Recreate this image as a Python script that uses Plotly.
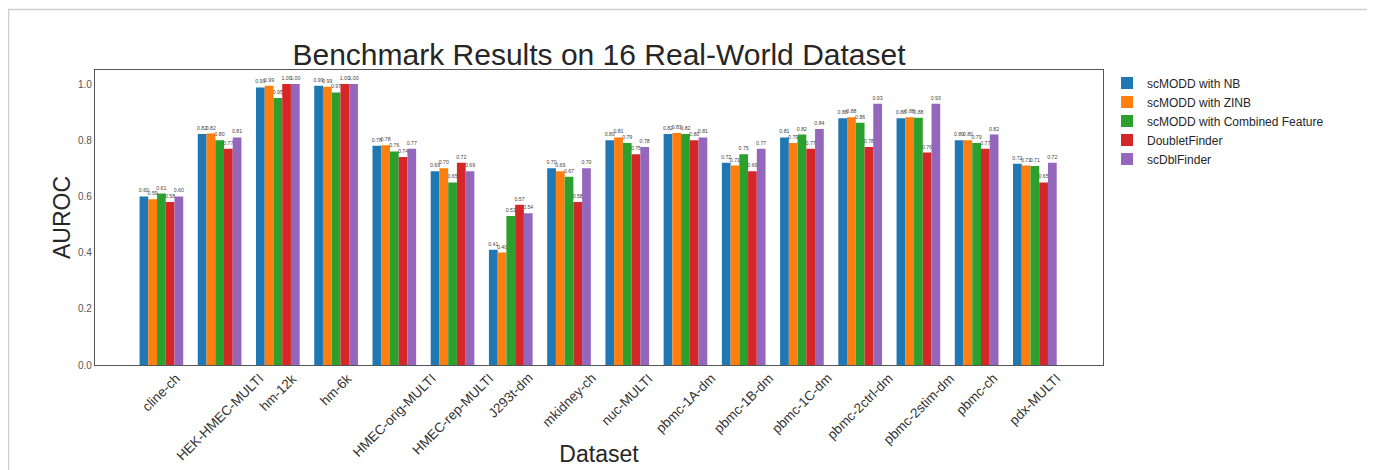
import plotly.graph_objects as go

datasets = ["cline-ch", "HEK-HMEC-MULTI", "hm-12k", "hm-6k", "HMEC-orig-MULTI",
            "HMEC-rep-MULTI", "J293t-dm", "mkidney-ch", "nuc-MULTI", "pbmc-1A-dm",
            "pbmc-1B-dm", "pbmc-1C-dm", "pbmc-2ctrl-dm", "pbmc-2stim-dm", "pbmc-ch",
            "pdx-MULTI"]

scmodd_nb = [0.60, 0.822, 0.988, 0.994, 0.78, 0.69, 0.41, 0.70, 0.80, 0.822,
             0.72, 0.81, 0.878, 0.878, 0.80, 0.716]
scmodd_zinb = [0.59, 0.824, 0.994, 0.99, 0.782, 0.70, 0.40, 0.69, 0.81, 0.826,
               0.71, 0.79, 0.882, 0.882, 0.80, 0.71]
scmodd_combined = [0.61, 0.80, 0.95, 0.97, 0.76, 0.65, 0.53, 0.67, 0.79, 0.822,
                   0.75, 0.82, 0.862, 0.88, 0.79, 0.708]
doubletfinder = [0.58, 0.77, 1.00, 1.00, 0.74, 0.72, 0.57, 0.58, 0.75, 0.80,
                 0.69, 0.77, 0.776, 0.756, 0.77, 0.65]
scdblfinder = [0.60, 0.81, 1.00, 1.00, 0.77, 0.69, 0.54, 0.70, 0.776, 0.81,
               0.77, 0.84, 0.93, 0.93, 0.82, 0.72]

series_names = ["scMODD with NB", "scMODD with ZINB", "scMODD with Combined Feature",
                "DoubletFinder", "scDblFinder"]
series_values = [scmodd_nb, scmodd_zinb, scmodd_combined, doubletfinder, scdblfinder]
colors = ["#1f77b4", "#ff7f0e", "#2ca02c", "#d62728", "#9467bd"]

y_ticks = [0.0, 0.2, 0.4, 0.6, 0.8, 1.0]

FONT = "Liberation Sans, Arial, Helvetica, sans-serif"

# the page body adds an 8px offset; figure sized to fit the window
OFF = 8
W, H = 1375 - OFF, 470 - OFF
L, R, T, B = 87, 272, 62, 105
PW = W - L - R
PH = H - T - B


def px2paper_x(page_px):
    return (page_px - OFF - L) / PW


def px2paper_y(page_py):
    return (H - B - (page_py - OFF)) / PH


fig = go.Figure()
for name, vals, col in zip(series_names, series_values, colors):
    fig.add_trace(go.Bar(
        x=datasets, y=vals, name=name,
        marker=dict(color=col, line=dict(width=0)),
        text=vals, texttemplate="%{y:.2f}", textposition="outside",
        textfont=dict(size=5.2, color="#444444", family=FONT),
        constraintext="none", cliponaxis=False,
    ))

# rotated category labels (centered under groups, like the original)
for ds in datasets:
    fig.add_annotation(
        x=ds, y=0, xref="x", yref="paper", text=ds, showarrow=False,
        textangle=-45, xanchor="center", yanchor="top", yshift=-3,
        font=dict(size=13.5, color="#333333", family=FONT),
    )

# outer light frame
fig.add_shape(type="rect", xref="paper", yref="paper",
              x0=px2paper_x(8.5), x1=px2paper_x(1369), y0=px2paper_y(490), y1=px2paper_y(9.5),
              line=dict(color="#cfcfcf", width=1.5), fillcolor="rgba(0,0,0,0)", layer="below")

fig.update_layout(
    width=W, height=H,
    margin=dict(l=L, r=R, t=T, b=B, autoexpand=False),
    paper_bgcolor="white", plot_bgcolor="white",
    barmode="group", bargap=0.25, bargroupgap=0,
    font=dict(family=FONT, color="#262626"),
    title=dict(text="Benchmark Results on 16 Real-World Dataset",
               x=0.5, xref="paper", xanchor="center",
               y=1 - (54 - OFF) / H, yref="container", yanchor="middle",
               font=dict(size=30, color="#262626", family=FONT)),
    xaxis=dict(
        type="category", range=[-1.14, 16.17], showticklabels=False, ticks="",
        showline=True, linecolor="#555555", linewidth=1.3, mirror=True,
        showgrid=False, zeroline=False,
        title=dict(text="Dataset", standoff=80, font=dict(size=23, color="#262626", family=FONT)),
    ),
    yaxis=dict(
        range=[0, 1.05], tickvals=y_ticks, tickformat=".1f", ticks="",
        tickfont=dict(size=10, color="#555555", family=FONT),
        showline=True, linecolor="#555555", linewidth=1.3, mirror=True,
        showgrid=False, zeroline=False,
        title=dict(text="AUROC", standoff=0, font=dict(size=23, color="#262626", family=FONT)),
    ),
    legend=dict(x=1.004, y=1.005, xanchor="left", yanchor="top",
                font=dict(size=12, color="#262626", family=FONT),
                bgcolor="rgba(0,0,0,0)", borderwidth=0, tracegroupgap=0),
    showlegend=True,
)

fig.write_html("out.html")
